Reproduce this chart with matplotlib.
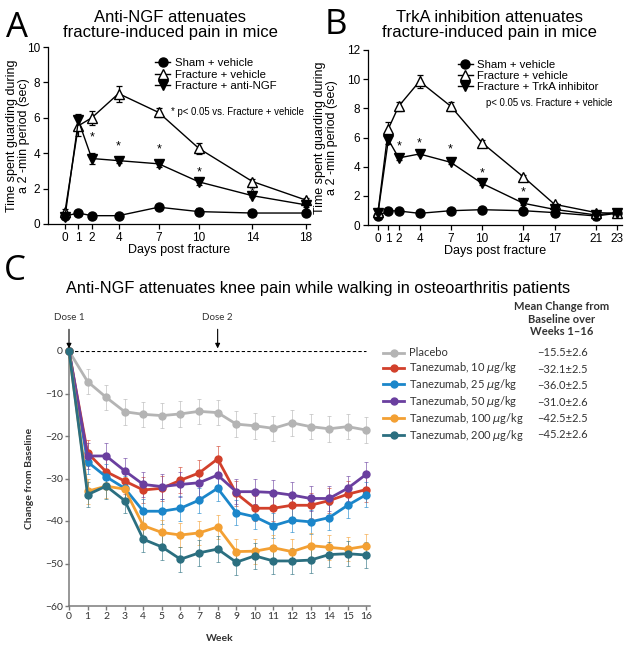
import matplotlib
matplotlib.use("Agg")
import matplotlib.pyplot as plt

W, H = 629, 648

# ---- panel A data ----
A_DAYS = [0, 1, 2, 4, 7, 10, 14, 18]
A_SHAM = [0.45, 0.62, 0.47, 0.47, 0.95, 0.70, 0.62, 0.62]
A_SHAM_ERR = [0.10, 0.10, 0.08, 0.10, 0.12, 0.18, 0.10, 0.12]
A_FRAC = [0.70, 5.55, 6.00, 7.37, 6.30, 4.27, 2.40, 1.35]
A_FRAC_ERR = [0.15, 0.60, 0.40, 0.45, 0.25, 0.30, 0.15, 0.10]
A_NGF = [0.42, 5.85, 3.70, 3.58, 3.40, 2.38, 1.60, 1.08]
A_NGF_ERR = [0.10, 0.35, 0.30, 0.15, 0.20, 0.15, 0.10, 0.10]
A_STAR_DAYS = [2, 4, 7, 10, 14]
A_STAR_Y = [4.9, 4.4, 4.2, 2.9, 1.8]

# ---- panel B data ----
B_DAYS = [0, 1, 2, 4, 7, 10, 14, 17, 21, 23]
B_SHAM = [0.62, 0.98, 0.96, 0.80, 0.98, 1.05, 0.98, 0.85, 0.62, 0.80]
B_SHAM_ERR = [0.15, 0.15, 0.15, 0.10, 0.10, 0.10, 0.10, 0.10, 0.25, 0.15]
B_FRAC = [0.87, 6.60, 8.15, 9.85, 8.15, 5.65, 3.30, 1.42, 0.85, 0.80]
B_FRAC_ERR = [0.10, 0.45, 0.30, 0.45, 0.30, 0.15, 0.15, 0.10, 0.10, 0.10]
B_TRKA = [0.80, 5.85, 4.60, 4.87, 4.30, 2.86, 1.49, 1.07, 0.69, 0.85]
B_TRKA_ERR = [0.10, 0.30, 0.15, 0.10, 0.15, 0.15, 0.15, 0.10, 0.30, 0.10]
B_STAR_DAYS = [2, 4, 7, 10, 14]
B_STAR_Y = [5.4, 5.6, 5.15, 3.55, 2.2]

# ---- panel C data ----
WEEKS = list(range(17))
C_LABELS = ["Placebo", "Tanezumab, 10 $\\mu$g/kg", "Tanezumab, 25 $\\mu$g/kg",
            "Tanezumab, 50 $\\mu$g/kg", "Tanezumab, 100 $\\mu$g/kg",
            "Tanezumab, 200 $\\mu$g/kg"]
C_MEAN_CHANGE = ["\u221215.5\u00b12.6", "\u221232.1\u00b12.5", "\u221236.0\u00b12.5",
                 "\u221231.0\u00b12.6", "\u221242.5\u00b12.5", "\u221245.2\u00b12.6"]
C_COLORS = ["#b4b4b4", "#d2402b", "#1b86ca", "#6a3f9f", "#f3a033", "#2b6f80"]
PLACEBO = [0, -7.2, -10.9, -14.3, -14.9, -15.2, -14.8, -14.2, -14.5,
           -17.2, -17.6, -18.2, -16.9, -17.8, -18.3, -17.8, -18.6]
TAN10 = [0, -24.0, -28.4, -30.6, -32.7, -32.3, -30.4, -28.7, -25.4,
         -33.5, -37.0, -37.0, -36.3, -36.3, -35.2, -33.7, -32.6]
TAN25 = [0, -26.1, -29.6, -32.3, -37.7, -37.7, -37.0, -35.1, -32.3,
         -38.0, -39.0, -41.1, -39.8, -40.2, -39.2, -36.3, -33.8]
TAN50 = [0, -24.7, -24.7, -28.2, -31.4, -31.9, -31.4, -31.0, -29.2,
         -33.1, -33.1, -33.3, -33.9, -34.7, -34.7, -32.3, -29.0]
TAN100 = [0, -33.0, -31.8, -32.5, -41.1, -42.7, -43.3, -42.8, -41.4,
          -47.2, -47.1, -46.3, -47.2, -45.8, -46.2, -46.6, -45.9]
TAN200 = [0, -33.8, -31.8, -35.2, -44.3, -46.1, -49.0, -47.5, -46.6,
          -49.7, -48.2, -49.4, -49.4, -49.2, -47.9, -47.7, -48.0]
C_SERIES = [PLACEBO, TAN10, TAN25, TAN50, TAN100, TAN200]
C_SEM = [3.0, 3.0, 2.9, 3.0, 2.9, 3.0]

SANS = ["Liberation Sans", "DejaVu Sans"]
HUM = ["Lato", "DejaVu Sans"]
plt.rcParams["font.family"] = SANS


def fx(x):
    return x / W


def fy(y):
    return 1 - y / H


def box(l, t, r, b):
    return [fx(l), fy(b), fx(r) - fx(l), (b - t) / H]


fig = plt.figure(figsize=(W / 100, H / 100), dpi=100)


def mouse_panel(rect, days, sham, sham_e, frac, frac_e, trt, trt_e, trt_label,
                ymax, xlim, star_d, star_y, note, note_xy, leg_x, leg_y, ylab_x):
    ax = fig.add_axes(rect)
    ekw = dict(fmt="none", ecolor="black", capsize=2.5, elinewidth=0.9,
               capthick=0.9, clip_on=False)
    lkw = dict(color="black", lw=1.0, ms=6.5, clip_on=False)
    ax.errorbar(days, sham, yerr=sham_e, zorder=2, **ekw)
    ax.errorbar(days, frac, yerr=frac_e, zorder=2, **ekw)
    ax.errorbar(days, trt, yerr=trt_e, zorder=2, **ekw)
    ax.plot(days, sham, marker="o", mfc="black", label="Sham + vehicle",
            zorder=3, **lkw)
    ax.plot(days, frac, marker="^", mfc="white", mew=1.0,
            label="Fracture + vehicle", zorder=4, **lkw)
    ax.plot(days, trt, marker="v", mfc="black", label=trt_label, zorder=5, **lkw)
    for d, y in zip(star_d, star_y):
        ax.text(d, y, "*", ha="center", va="center", fontsize=9)
    ax.text(note_xy[0], note_xy[1], note, fontsize=6.9, va="center")
    ax.set_ylim(0, ymax)
    ax.set_xlim(*xlim)
    ax.set_xticks(days)
    ax.set_yticks(range(0, ymax + 1, 2))
    for s in ["top", "right"]:
        ax.spines[s].set_visible(False)
    for s in ["left", "bottom"]:
        ax.spines[s].set_linewidth(0.9)
    ax.tick_params(labelsize=8.5, length=3.5, width=0.9, pad=2)
    ax.set_xlabel("Days post fracture", fontsize=9, labelpad=0)
    ax.set_ylabel("Time spent guarding during\na 2 -min period (sec)",
                  fontsize=9, linespacing=0.95)
    ax.yaxis.set_label_coords(ylab_x, 0.5)
    ax.legend(loc="upper left", bbox_to_anchor=(leg_x, leg_y), frameon=False,
              fontsize=8.2, handlelength=1.3, handletextpad=0.4,
              labelspacing=0.12, borderaxespad=0, borderpad=0)
    return ax


mouse_panel(box(48, 47, 310, 224), A_DAYS, A_SHAM, A_SHAM_ERR, A_FRAC, A_FRAC_ERR,
            A_NGF, A_NGF_ERR, "Fracture + anti-NGF", 10, (-1.27, 18.3),
            A_STAR_DAYS, A_STAR_Y, "* p< 0.05 vs. Fracture + vehicle", (7.9, 6.3),
            0.41, 0.937, -0.069)
mouse_panel(box(368, 50, 622, 225), B_DAYS, B_SHAM, B_SHAM_ERR, B_FRAC,
            B_FRAC_ERR, B_TRKA, B_TRKA_ERR, "Fracture + TrkA inhibitor", 12,
            (-0.96, 23.5), B_STAR_DAYS, B_STAR_Y,
            "p< 0.05 vs. Fracture + vehicle", (10.4, 8.4), 0.354, 0.945, -0.118)

fig.text(fx(170), fy(25), "Anti-NGF attenuates\nfracture-induced pain in mice",
         ha="center", va="center", fontsize=12, linespacing=1.0)
fig.text(fx(489), fy(25), "TrkA inhibition attenuates\nfracture-induced pain in mice",
         ha="center", va="center", fontsize=12, linespacing=1.0)
for letter, x, y in [("A", 6, 28), ("B", 325, 25), ("C", 4, 271)]:
    fig.text(fx(x), fy(y), letter, fontsize=25, family="Open Sans",
             va="center", ha="left")
fig.text(fx(318), fy(289),
         "Anti-NGF attenuates knee pain while walking in osteoarthritis patients",
         ha="center", va="center", fontsize=11.8)

# ---- panel C ----
axc = fig.add_axes(box(69, 351, 370, 606))
for vals, col, lab, se in zip(C_SERIES, C_COLORS, C_LABELS, C_SEM):
    axc.errorbar(WEEKS[1:], vals[1:], yerr=se, fmt="none", ecolor=col,
                 elinewidth=0.7, capsize=1.5, capthick=0.7, alpha=0.6, zorder=2)
    axc.plot(WEEKS, vals, color=col, lw=2.0, marker="o", ms=5, label=lab,
             clip_on=False, zorder=3)
axc.hlines(0, WEEKS[0], WEEKS[-1], colors="black", linestyles=(0, (3, 2)),
           lw=0.8, zorder=1)
axc.set_xlim(0, 16.2)
axc.set_ylim(-60, 0)
axc.set_xticks(WEEKS)
axc.set_yticks(range(-60, 1, 10))
for s in ["top", "right"]:
    axc.spines[s].set_visible(False)
for s in ["left", "bottom"]:
    axc.spines[s].set_color("#7a7a7a")
    axc.spines[s].set_linewidth(1.1)
axc.tick_params(labelsize=7.5, length=3, width=1.0, color="#7a7a7a",
                labelcolor="#333333", pad=1.5)
for t in axc.get_xticklabels() + axc.get_yticklabels():
    t.set_family(HUM)
axc.set_xlabel("Week", fontsize=7.5, fontweight="bold", family=HUM,
               color="#333333", labelpad=9)
axc.set_ylabel("Change from Baseline", fontsize=7.5, fontweight="bold",
               family=HUM, color="#333333", labelpad=8)
for wk, lab in [(0, "Dose 1"), (8, "Dose 2")]:
    axc.annotate(lab, xy=(wk, 0.6), xytext=(wk, 7.8), ha="center", va="center",
                 fontsize=7, family=HUM, color="#333333", annotation_clip=False,
                 arrowprops=dict(arrowstyle="-|>", color="black", lw=0.8,
                                 mutation_scale=7, shrinkA=3, shrinkB=0))

leg = fig.legend(*axc.get_legend_handles_labels(), loc="upper left",
                 bbox_to_anchor=(fx(383), fy(347.5)), frameon=False,
                 prop={"family": HUM, "size": 8}, handlelength=1.9,
                 handletextpad=0.4, labelspacing=0.17, borderaxespad=0,
                 borderpad=0)
for t in leg.get_texts():
    t.set_color("#333333")
fig.text(fx(562), fy(319), "Mean Change from\nBaseline over\nWeeks 1\u201316",
         ha="center", va="center", fontsize=8, fontweight="bold", family=HUM,
         color="#333333", linespacing=1.15)
for i, txt in enumerate(C_MEAN_CHANGE):
    fig.text(fx(537), fy(353 + 16.4 * i), txt, ha="left", va="center",
             fontsize=8, family=HUM, color="#333333")

fig.savefig("out.png", dpi=100)
